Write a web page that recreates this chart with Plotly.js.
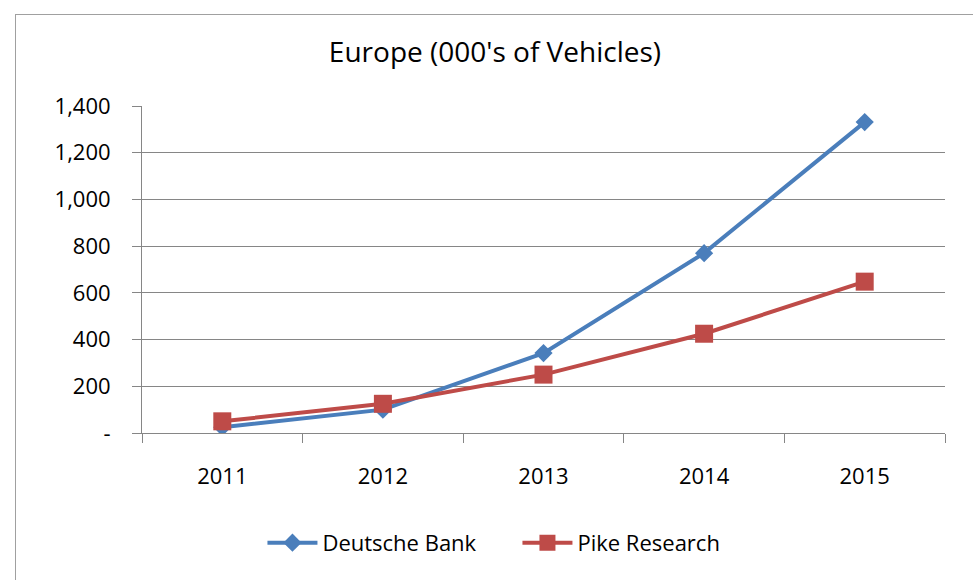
<!DOCTYPE html>
<html><head><meta charset="utf-8">
<script src="https://cdn.plot.ly/plotly-3.0.1.min.js"></script>
<style>
body{margin:0;padding:0;background:#fff;}
#frame{position:absolute;left:15px;top:14px;width:980px;height:590px;border-left:1px solid #a0a0a0;border-top:1px solid #a0a0a0;}
#chart{position:absolute;left:0;top:0;width:973px;height:580px;}
</style></head>
<body>
<div id="frame"></div>
<div id="chart"></div>
<script>
const years = ['2011','2012','2013','2014','2015'];
const deutscheBank = [25, 100, 342, 770, 1331];
const pikeResearch = [50, 125, 250, 425, 648];
const yTickVals = [0, 200, 400, 600, 800, 1000, 1200, 1400];
const yTickText = ['-', '200', '400', '600', '800', '1,000', '1,200', '1,400'];

const font = '"Open Sans", "Liberation Sans", sans-serif';

const traces = [
  {x: years, y: deutscheBank, name: 'Deutsche Bank', type: 'scatter', mode: 'lines+markers',
   line: {color: '#4A7EBB', width: 4}, marker: {symbol: 'diamond', size: 14, color: '#4A7EBB'}},
  {x: years, y: pikeResearch, name: 'Pike Research', type: 'scatter', mode: 'lines+markers',
   line: {color: '#BE4B48', width: 4}, marker: {symbol: 'square', size: 18, color: '#BE4B48'}}
];

const layout = {
  width: 973, height: 580,
  paper_bgcolor: 'rgba(0,0,0,0)', plot_bgcolor: 'rgba(0,0,0,0)',
  margin: {l: 142, r: 28, t: 106, b: 147},
  font: {family: font, color: '#000'},
  title: {text: "Europe (000's of Vehicles)", font: {size: 28, color: '#000', family: font}, x: 0.5087, xanchor: 'center', y: 0.91, yanchor: 'middle'},
  xaxis: {type: 'category', range: [-0.5, 4.5], showgrid: false, showline: true, linecolor: '#868686', linewidth: 1,
    ticks: 'outside', tickson: 'boundaries', ticklen: 9, tickcolor: '#868686', ticklabelstandoff: 24,
    tickfont: {size: 22, family: font}, zeroline: false},
  yaxis: {range: [0, 1400], tickvals: yTickVals, ticktext: yTickText, showgrid: true, gridcolor: '#868686', gridwidth: 1,
    showline: true, linecolor: '#868686', ticks: 'outside', ticklen: 9, tickcolor: '#868686',
    ticklabelstandoff: 17, tickfont: {size: 22, family: font}, zeroline: false},
  showlegend: true,
  legend: {orientation: 'h', x: 0.15, xanchor: 'left', y: -0.336, yanchor: 'middle', font: {size: 22, family: font},
    itemwidth: 50, entrywidth: 190, traceorder: 'normal'}
};

Plotly.newPlot('chart', traces, layout, {displayModeBar: false, staticPlot: true});
</script>
</body></html>
